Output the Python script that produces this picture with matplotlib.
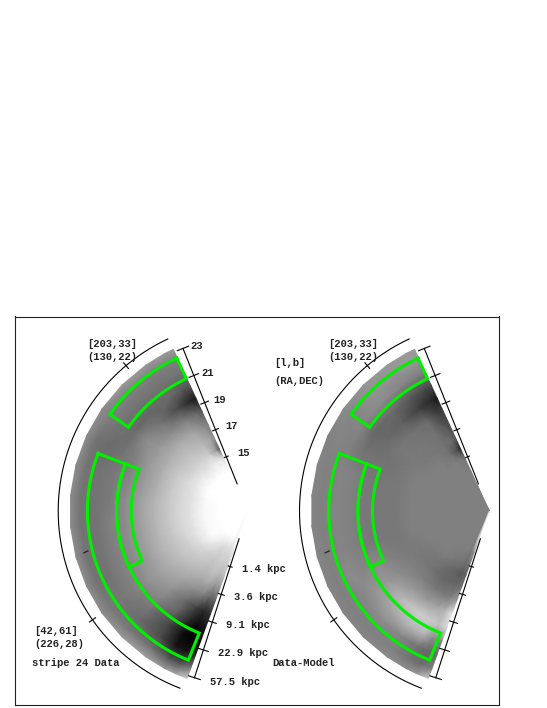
import numpy as np
import matplotlib
matplotlib.use('Agg')
import matplotlib.pyplot as plt

W, H = 547, 708
SCALE = 14.6         # px per magnitude
LEFT_APEX = (248.0, 511.0)
RIGHT_SHIFT = 241.3 / SCALE
GREEN = '#00f000'
FONT = 'Liberation Mono'

# grid nodes of the wedge maps
mag_nodes = [11, 13, 14, 15, 15.7, 16.5, 17.5, 18.5, 19.5, 20.5, 21.5, 22.5, 23.2]
ang_nodes = [65.2, 62, 55, 45, 35, 25, 15, 5, -5, -15, -25, -35, -45, -55, -62, -66, -70]

# gray levels, one row per angle
stripe_gray = [
    [1, 1, 1, .85, .35, .55, .50, .35, .10, .35, .45, .50, .60],
    [1, 1, 1, .90, .60, .65, .55, .42, .15, .35, .45, .50, .60],
    [1, 1, 1, .92, .80, .72, .65, .50, .30, .42, .45, .50, .60],
    [1, 1, 1, .88, .82, .75, .68, .55, .45, .40, .45, .50, .60],
    [1, 1, 1, .90, .82, .76, .68, .60, .55, .42, .45, .50, .55],
    [1, 1, 1, .90, .84, .78, .68, .60, .50, .45, .42, .45, .55],
    [1, 1, .98, .88, .84, .78, .68, .60, .52, .48, .45, .45, .55],
    [1, 1, .97, .88, .84, .78, .70, .62, .55, .48, .45, .45, .55],
    [1, 1, .97, .88, .84, .78, .70, .62, .55, .50, .45, .45, .55],
    [1, 1, .97, .88, .84, .78, .70, .62, .55, .50, .45, .45, .55],
    [1, 1, .98, .88, .82, .76, .70, .62, .55, .50, .45, .45, .55],
    [1, 1, .98, .86, .80, .75, .68, .62, .56, .50, .47, .47, .55],
    [1, 1, .92, .82, .78, .72, .65, .58, .52, .46, .42, .47, .60],
    [1, 1, .85, .78, .74, .68, .56, .42, .38, .28, .30, .45, .62],
    [1, 1, .85, .80, .76, .68, .50, .25, .15, .05, .08, .35, .60],
    [1, .95, .85, .78, .72, .60, .40, .15, .05, 0, .08, .35, .65],
    [1, 1, .90, .82, .75, .62, .40, .20, .10, .05, .15, .50, .80],
]
residual_gray = [
    [.5, .5, .5, .45, .15, .35, .30, .25, .10, .30, .50, .60, .60],
    [.5, .5, .5, .47, .30, .42, .35, .25, .15, .30, .50, .60, .60],
    [.5, .5, .5, .50, .45, .45, .45, .42, .25, .35, .52, .58, .60],
    [.5, .5, .5, .50, .50, .47, .47, .45, .38, .42, .55, .58, .58],
    [.5, .5, .5, .50, .50, .48, .48, .47, .42, .40, .52, .52, .55],
    [.5, .5, .5, .50, .50, .50, .47, .45, .45, .45, .50, .52, .50],
    [.5, .5, .5, .50, .50, .50, .47, .47, .47, .50, .52, .50, .52],
    [.5, .5, .5, .50, .50, .50, .47, .47, .47, .50, .52, .50, .52],
    [.5, .5, .5, .50, .50, .50, .47, .47, .47, .50, .52, .50, .52],
    [.5, .5, .5, .50, .50, .50, .47, .47, .47, .50, .52, .50, .52],
    [.5, .5, .5, .50, .50, .48, .48, .50, .55, .52, .55, .50, .52],
    [.5, .5, .5, .50, .48, .47, .50, .55, .60, .58, .52, .50, .52],
    [.5, .5, .5, .50, .47, .45, .50, .60, .72, .65, .55, .50, .52],
    [.5, .5, .5, .47, .42, .40, .48, .62, .80, .72, .52, .50, .55],
    [.5, .5, .5, .45, .38, .40, .48, .65, .80, .72, .45, .45, .55],
    [.5, .5, .47, .42, .35, .40, .50, .70, .75, .55, .40, .42, .60],
    [1, 1, .60, .45, .40, .45, .60, .90, .85, .55, .42, .50, .80],
]

# boxes: (mag_in, mag_out, ang_top, ang_bottom)
box_north = (21.0, 22.55, 65.0, 35.0)
box_south = (20.0, 22.0, 21.0, -68.2)
box_inner = (19.0, 20.0, 21.0, -25.2)

axis_mags = [15, 17, 19, 21, 23]
mag_labels = ['15', '17', '19', '21', '23']
kpc_labels = ['1.4 kpc', '3.6 kpc', '9.1 kpc', '22.9 kpc', '57.5 kpc']
arc_ticks = [50, -35]

AXIS_TOP = 68.2
AXIS_BOT = -72.2
ARC_MAG = 24.0


def polar_xy(mag, ang, x0):
    t = np.radians(ang)
    r = np.asarray(mag, dtype=float) - 11
    return x0 - r * np.cos(t), r * np.sin(t)


def draw_box(ax, box, x0):
    m0, m1, a0, a1 = box
    aa = np.linspace(a0, a1, 60)
    mags = np.r_[np.full(60, m1), np.full(60, m0), m1]
    angs = np.r_[aa, aa[::-1], a0]
    x, y = polar_xy(mags, angs, x0)
    ax.plot(x, y, color=GREEN, lw=2.2, solid_joinstyle='miter', zorder=4)


def draw_panel(ax, gray, x0):
    mm, aa = np.meshgrid(mag_nodes, ang_nodes)
    X, Y = polar_xy(mm, aa, x0)
    ax.pcolormesh(X, Y, np.array(gray), shading='gouraud', cmap='gray',
                  vmin=0, vmax=1, zorder=1, rasterized=True)

    for box in (box_north, box_south, box_inner):
        draw_box(ax, box, x0)

    # outer arc with its two ticks
    arc = np.linspace(65, -69, 200)
    ax.plot(*polar_xy(np.full(200, ARC_MAG), arc, x0), color='k', lw=0.8, zorder=3)
    for a in arc_ticks:
        ax.plot(*polar_xy([ARC_MAG - 0.25, ARC_MAG + 0.25], [a, a], x0), color='k', lw=0.8, zorder=3)

    # the two radial magnitude axes, tick length grows with radius
    for ang in (AXIS_TOP, AXIS_BOT):
        ax.plot(*polar_xy([13, 23], [ang, ang], x0), color='k', lw=0.8, zorder=3)
        for m in axis_mags:
            ax.plot(*polar_xy(np.full(2, m), [ang - 2, ang + 2], x0), color='k', lw=0.8, zorder=3)

    # short dark streak near the outer edge
    ax.plot(*polar_xy([22.3, 22.6], [-14, -14.3], x0), color='#222222', lw=0.9, zorder=2)


def label(fig, x, y, s):
    fig.text(x / W, 1 - y / H, s, family=FONT, fontweight='bold', fontsize=7.6,
             color='#222222', ha='left', va='center')


def main():
    fig = plt.figure(figsize=(W / 100, H / 100), dpi=100)
    fl, fr, ft, fb = 15.0, 499.5, 316.5, 704.5
    ax = fig.add_axes([fl / W, 1 - fb / H, (fr - fl) / W, (fb - ft) / H])
    ax.set_xlim((fl - LEFT_APEX[0]) / SCALE, (fr - LEFT_APEX[0]) / SCALE)
    ax.set_ylim((LEFT_APEX[1] - fb) / SCALE, (LEFT_APEX[1] - ft) / SCALE)
    ax.set_xticks([])
    ax.set_yticks([])
    for s in ax.spines.values():
        s.set_linewidth(0.8)
        s.set_color('#222222')

    draw_panel(ax, stripe_gray, 0.0)
    draw_panel(ax, residual_gray, RIGHT_SHIFT)

    for x, y, s in [(87, 344, '[203,33]'), (87, 357, '(130,22)'),
                    (328, 344, '[203,33]'), (328, 357, '(130,22)'),
                    (34.5, 631, '[42,61]'), (34.5, 644, '(226,28)'),
                    (32, 663, 'stripe 24 Data'), (272.5, 663, 'Data-Model'),
                    (274, 363, '[l,b]'), (274, 381, '(RA,DEC)')]:
        label(fig, x, y, s)

    mag_pos = [(237.5, 453), (225.5, 426), (213.5, 400), (201, 373), (190, 346)]
    for (x, y), s in zip(mag_pos, mag_labels):
        label(fig, x, y, s)
    kpc_pos = [(242, 569), (234, 597.5), (226, 625), (217.5, 653.5), (210, 682)]
    for (x, y), s in zip(kpc_pos, kpc_labels):
        label(fig, x, y, s)

    fig.savefig('out.png', dpi=100)


if __name__ == '__main__':
    main()
